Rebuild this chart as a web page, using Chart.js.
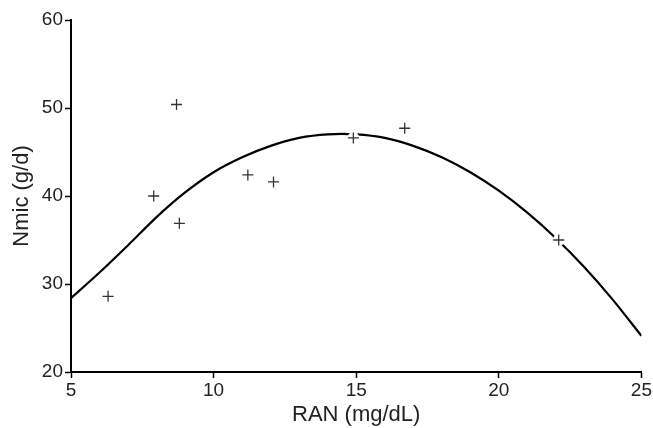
<!DOCTYPE html>
<html>
<head>
<meta charset="utf-8">
<script src="https://cdn.jsdelivr.net/npm/chart.js@4/dist/chart.umd.min.js"></script>
<style>
  html, body { margin: 0; padding: 0; background: #fff; }
  #wrap { width: 653px; height: 428px; }
</style>
</head>
<body>
<div id="wrap"><canvas id="nmicChart"></canvas></div>
<script>
// observed points (RAN, Nmic)
var ranObs  = [6.3, 7.9, 8.7, 8.8, 11.2, 12.1, 14.9, 16.7, 22.1];
var nmicObs = [28.6, 40.0, 50.4, 36.9, 42.4, 41.6, 46.6, 47.7, 35.0];

// fitted curve
var ranFit  = [5, 6, 7, 8, 9, 10, 11, 12, 13, 14, 15, 16, 17, 18, 19, 20, 21, 22, 23, 24, 25];
var nmicFit = [28.4, 31.3, 34.4, 37.6, 40.4, 42.7, 44.4, 45.7, 46.6, 47.0, 47.0, 46.6, 45.7, 44.4, 42.7, 40.6, 38.1, 35.2, 31.9, 28.2, 24.1];

var xTicks = [5, 10, 15, 20, 25];
var yTicks = [20, 30, 40, 50, 60];

var toPoints = function(xs, ys) {
  var out = [];
  for (var i = 0; i < xs.length; i++) {
    out.push({ x: xs[i], y: ys[i] });
  }
  return out;
};

var fontFam = "'Liberation Sans', Arial, Helvetica, sans-serif";

new Chart(document.getElementById("nmicChart").getContext("2d"), {
  type: 'scatter',
  data: {
    datasets: [
      {
        // white marks under the crosses break the curve like the original
        data: toPoints(ranObs, nmicObs),
        pointStyle: 'circle',
        pointRadius: 6,
        pointBackgroundColor: '#fff',
        pointBorderWidth: 0,
        order: 2
      },
      {
        data: toPoints(ranObs, nmicObs),
        pointStyle: 'cross',
        pointRadius: 5.5,
        pointBorderColor: '#333',
        pointBorderWidth: 1.3,
        order: 1
      },
      {
        type: 'line',
        data: toPoints(ranFit, nmicFit),
        borderColor: '#000',
        borderWidth: 2.2,
        pointRadius: 0,
        fill: false,
        tension: 0.3,
        order: 3
      }
    ]
  },
  options: {
    responsive: true,
    maintainAspectRatio: false,
    animation: false,
    layout: { padding: { top: 20, right: 9, left: 9, bottom: 0 } },
    plugins: {
      legend: { display: false },
      tooltip: { enabled: false }
    },
    scales: {
      x: {
        type: 'linear',
        min: 5,
        max: 25,
        afterBuildTicks: function(axis) {
          axis.ticks = xTicks.map(function(v) { return { value: v }; });
        },
        afterFit: function(axis) { axis.height = 56; },
        grid: { drawOnChartArea: false, tickLength: 6, tickColor: '#000', tickWidth: 1.5 },
        border: { color: '#000', width: 2 },
        ticks: { color: '#222', font: { family: fontFam, size: 19 }, padding: 1, maxRotation: 0 },
        title: { display: true, text: 'RAN (mg/dL)', color: '#222', font: { family: fontFam, size: 22 }, padding: { top: 0, bottom: 0 } }
      },
      y: {
        min: 20,
        max: 60,
        afterBuildTicks: function(axis) {
          axis.ticks = yTicks.map(function(v) { return { value: v }; });
        },
        afterFit: function(axis) { axis.width = 62; },
        grid: { drawOnChartArea: false, tickLength: 6, tickColor: '#000', tickWidth: 1.5 },
        border: { color: '#000', width: 2 },
        ticks: { color: '#222', font: { family: fontFam, size: 19 }, padding: 2 },
        title: { display: true, text: 'Nmic (g/d)', color: '#222', font: { family: fontFam, size: 22 }, padding: { top: 0, bottom: 4 } }
      }
    }
  }
});
</script>
</body>
</html>
